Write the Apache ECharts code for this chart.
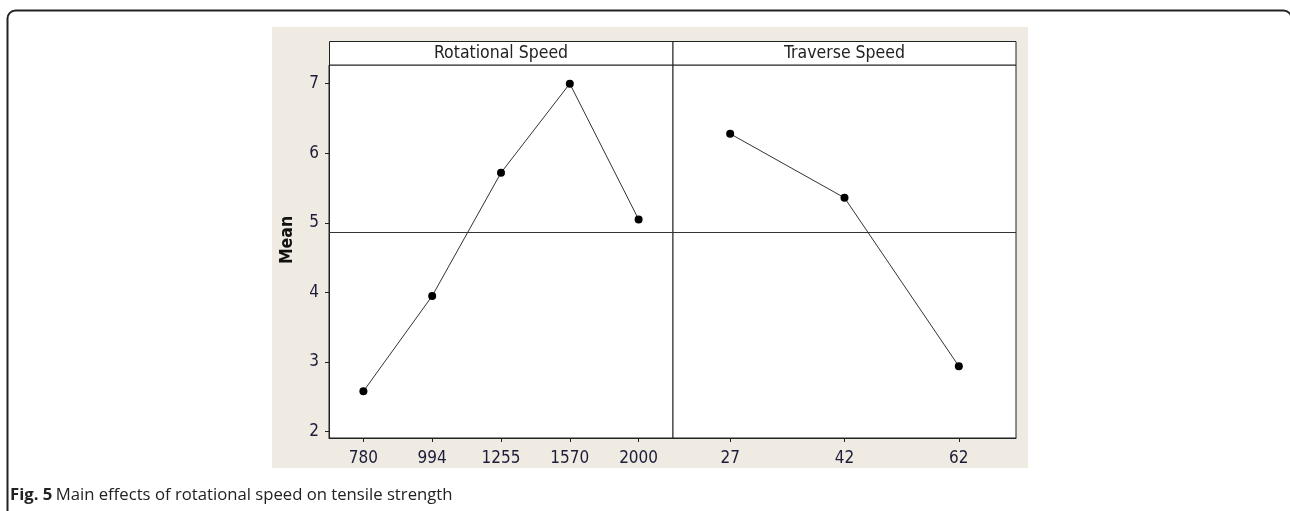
<!DOCTYPE html>
<html>
<head>
<meta charset="utf-8">
<script src="https://cdn.jsdelivr.net/npm/echarts@6/dist/echarts.min.js"></script>
<style>html,body{margin:0;padding:0;background:#fff;}#c{width:1290px;height:511px;}</style>
</head>
<body>
<div id="c"></div>
<script>
const rotCategories = ['780', '994', '1255', '1570', '2000'];
const rotMeans = [2.58, 3.95, 5.72, 7.00, 5.05];
const travCategories = ['27', '42', '62'];
const travMeans = [6.28, 5.36, 2.94];
const grandMean = 4.87;
const yTicks = [2, 3, 4, 5, 6, 7];
const panelTitles = ['Rotational Speed', 'Traverse Speed'];
const yAxisName = 'Mean';
const captionBold = 'Fig. 5';
const captionText = 'Main effects of rotational speed on tensile strength';

const chart = echarts.init(document.getElementById('c'), null, {renderer: 'canvas'});
const tickFont = '"DejaVu Sans Condensed", "DejaVu Sans", sans-serif';
const labelColor = '#1c1c3a';
const yMin = 1.909, yMax = 7.268;

function xAxis(gridIndex, data) {
  return {
    type: 'category', gridIndex, data, boundaryGap: true,
    axisLine: {show: true, lineStyle: {color: '#222', width: 1}},
    axisTick: {show: true, alignWithLabel: true, length: 4, lineStyle: {color: '#222'}},
    axisLabel: {color: labelColor, fontFamily: tickFont, fontSize: 17, margin: 12},
    splitLine: {show: false}
  };
}
function yAxis(gridIndex, showLabels) {
  return {
    type: 'value', gridIndex, min: yMin, max: yMax,
    axisLine: {show: showLabels, lineStyle: {color: '#222', width: 1}},
    axisTick: {show: showLabels, length: 4, customValues: yTicks, lineStyle: {color: '#222'}},
    axisLabel: {show: showLabels, color: labelColor, fontFamily: tickFont, fontSize: 17, margin: 10, customValues: yTicks},
    splitLine: {show: false}
  };
}
function series(i, data) {
  return {
    type: 'line', xAxisIndex: i, yAxisIndex: i, data,
    symbol: 'circle', symbolSize: 8,
    itemStyle: {color: '#000'},
    lineStyle: {color: '#333', width: 1},
    silent: true, animation: false,
    markLine: {
      silent: true, symbol: 'none', animation: false,
      label: {show: false},
      lineStyle: {color: '#333', width: 1, type: 'solid'},
      data: [{yAxis: grandMean}]
    }
  };
}

const option = {
  backgroundColor: '#fff',
  animation: false,
  grid: [
    {left: 329, top: 65, width: 344, height: 373, show: true, backgroundColor: '#fff', borderColor: '#222', borderWidth: 1, containLabel: false},
    {left: 673, top: 65, width: 343, height: 373, show: true, backgroundColor: '#fff', borderColor: '#222', borderWidth: 1, containLabel: false}
  ],
  xAxis: [xAxis(0, rotCategories), xAxis(1, travCategories)],
  yAxis: [yAxis(0, true), yAxis(1, false)],
  series: [series(0, rotMeans), series(1, travMeans)],
  graphic: [
    {type: 'rect', z: -20, shape: {x: 7.5, y: 10.5, width: 1284, height: 600, r: 8}, style: {fill: '#fff', stroke: '#222', lineWidth: 2}},
    {type: 'rect', z: -10, shape: {x: 272, y: 27, width: 756, height: 441}, style: {fill: '#efebe2'}},
    {type: 'rect', z: 5, shape: {x: 329.5, y: 41.5, width: 343.5, height: 23.5}, style: {fill: '#fff', stroke: '#222', lineWidth: 1}},
    {type: 'rect', z: 5, shape: {x: 673, y: 41.5, width: 343, height: 23.5}, style: {fill: '#fff', stroke: '#222', lineWidth: 1}},
    {type: 'text', z: 6, x: 501, y: 53, style: {text: panelTitles[0], fill: '#222', font: '17.5px ' + tickFont, textAlign: 'center', textVerticalAlign: 'middle'}},
    {type: 'text', z: 6, x: 844.5, y: 53, style: {text: panelTitles[1], fill: '#222', font: '17.5px ' + tickFont, textAlign: 'center', textVerticalAlign: 'middle'}},
    {type: 'text', z: 6, x: 287, y: 240, rotation: Math.PI / 2, style: {text: yAxisName, fill: '#111', font: 'bold 17.5px ' + tickFont, textAlign: 'center', textVerticalAlign: 'middle'}},
    {type: 'text', z: 6, x: 10, y: 495, style: {rich: {b: {fontWeight: 'bold', fontSize: 16.7, fontFamily: '"Open Sans", sans-serif', fill: '#222'}, n: {fontSize: 16.7, fontFamily: '"Open Sans", sans-serif', fill: '#222'}}, text: '{b|' + captionBold + '} {n|' + captionText + '}', textVerticalAlign: 'middle', textAlign: 'left'}}
  ]
};
chart.setOption(option);
</script>
</body>
</html>
